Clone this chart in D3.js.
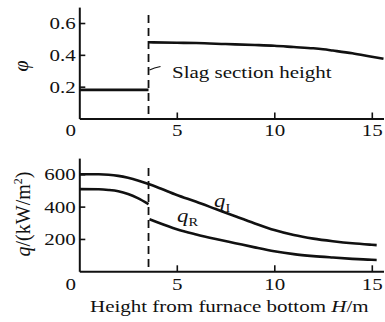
<!DOCTYPE html>
<html>
<head>
<meta charset="utf-8">
<script src="https://cdn.jsdelivr.net/npm/d3@7"></script>
<style>
  html, body { margin: 0; padding: 0; background: #fff; }
  svg { display: block; }
</style>
</head>
<body>
<svg id="chart" width="385" height="322"></svg>
<script>
// Height above the furnace bottom, H / m
const xTicks = [0, 5, 10, 15];
const slagHeight = 3.55;

// Upper panel: coefficient phi
const phiTicks = [0.2, 0.4, 0.6];
const hPhiLow = [0, 3.55];
const phiLow = [0.18, 0.18];
const hPhiHigh = [3.55, 5, 6, 7.5, 9, 10, 11, 12, 12.5, 13, 14, 15, 15.6];
const phiHigh = [0.479, 0.476, 0.474, 0.468, 0.462, 0.457, 0.449, 0.441, 0.435, 0.427, 0.41, 0.388, 0.375];

// Lower panel: heat flux q / (kW/m2)
const qTicks = [200, 400, 600];
const hQI = [0, 1, 1.5, 2, 2.5, 3, 3.55, 4, 5, 6, 7, 8, 9, 10, 11, 12, 13, 14, 15, 15.25];
const qI = [600, 600, 597, 590, 578, 562, 540, 520, 472, 430, 385, 340, 296, 255, 224, 202, 186, 173, 164, 162];
const hQRLow = [0, 1, 1.5, 2, 2.5, 3, 3.55];
const qRLow = [508, 507, 503, 495, 478, 452, 415];
const hQRHigh = [3.6, 4, 5, 6, 7, 8, 9, 10, 11, 12, 13, 14, 15, 15.25];
const qRHigh = [322, 303, 260, 228, 200, 174, 148, 124, 106, 94, 85, 77, 71, 70];

const FONT = "'Liberation Serif', 'Times New Roman', 'DejaVu Serif', serif";
const svg = d3.select("#chart").attr("font-family", FONT);
const FS = 17.5;      // base font size
const SX = 1.2;       // horizontal widening of the serif glyphs

const x = d3.scaleLinear().domain([0, 15.6]).range([79.3, 383.5]);
const yPhi = d3.scaleLinear().domain([0, 0.7]).range([118.5, 7.1]);
const yQ = d3.scaleLinear().domain([0, 700]).range([271.3, 158.1]);

const zip = (a, b) => a.map((v, i) => [v, b[i]]);

function drawAxes(yScale, ticks, fmt, pad) {
  const y0 = yScale.range()[0];
  const gx = svg.append("g").attr("transform", `translate(0,${y0})`)
    .call(d3.axisBottom(x).tickValues(xTicks).tickFormat(d3.format("d"))
      .tickSizeInner(-6).tickSizeOuter(0).tickPadding(pad));
  const gy = svg.append("g").attr("transform", `translate(${x(0)},0)`)
    .call(d3.axisLeft(yScale).tickValues(ticks).tickFormat(fmt)
      .tickSizeInner(-6).tickSizeOuter(0).tickPadding(3));
  [gx, gy].forEach(g => {
    g.attr("font-family", FONT).attr("font-size", FS);
    g.select(".domain").attr("stroke", "#111").attr("stroke-width", 2);
    g.selectAll(".tick line").attr("stroke", "#111").attr("stroke-width", 1.6);
    g.selectAll(".tick text").attr("fill", "#111").attr("font-family", FONT).attr("font-size", FS)
      .attr("transform", `scale(${SX},1)`);
  });
  gx.selectAll(".tick").filter(d => d === 0).select("line").remove();
  gx.selectAll(".tick").filter(d => d === 0).select("text").attr("x", -7.5);
}

function curve(xs, ys, yScale) {
  svg.append("path")
    .datum(zip(xs, ys))
    .attr("fill", "none").attr("stroke", "#111").attr("stroke-width", 2.6)
    .attr("d", d3.line().x(d => x(d[0])).y(d => yScale(d[1])).curve(d3.curveMonotoneX));
}

function label(px, py, rotate, build) {
  const g = svg.append("g").attr("transform", `translate(${px},${py}) rotate(${rotate}) scale(${rotate ? 1 : SX},1)`);
  const t = g.append("text").attr("font-size", FS).attr("font-family", FONT).attr("fill", "#111");
  build(t);
  return t;
}

// ---- upper panel ----
drawAxes(yPhi, phiTicks, d3.format(".1f"), 5);
svg.append("line")
  .attr("x1", x(slagHeight)).attr("x2", x(slagHeight))
  .attr("y1", 15).attr("y2", yPhi(0))
  .attr("stroke", "#111").attr("stroke-width", 1.8).attr("stroke-dasharray", "8,5");
curve(hPhiLow, phiLow, yPhi);
curve(hPhiHigh, phiHigh, yPhi);

svg.append("path")
  .attr("d", `M${x(slagHeight) + 1},70 L${x(slagHeight) + 6},68 L${x(slagHeight) + 12},66.5`)
  .attr("fill", "none").attr("stroke", "#111").attr("stroke-width", 1.2);
label(172, 77.5, 0, t => t.text("Slag section height"));

label(28, 66, -90, t => t.attr("text-anchor", "middle").attr("font-size", 20)
  .append("tspan").attr("font-style", "italic").text("φ"));

// ---- lower panel ----
drawAxes(yQ, qTicks, d3.format("d"), 6.5);
svg.append("line")
  .attr("x1", x(slagHeight)).attr("x2", x(slagHeight))
  .attr("y1", 168).attr("y2", yQ(0))
  .attr("stroke", "#111").attr("stroke-width", 1.8).attr("stroke-dasharray", "8,5");
curve(hQI, qI, yQ);
curve(hQRLow, qRLow, yQ);
curve(hQRHigh, qRHigh, yQ);

label(214, 206.5, 0, t => {
  t.append("tspan").attr("font-style", "italic").attr("font-size", 19).text("q");
  t.append("tspan").attr("font-size", 12).attr("dy", 5).text("I");
});
label(177, 221.5, 0, t => {
  t.append("tspan").attr("font-style", "italic").attr("font-size", 19).text("q");
  t.append("tspan").attr("font-size", 12).attr("dy", 4).text("R");
});

label(30, 214, -90, t => {
  t.attr("text-anchor", "middle").attr("font-size", 20);
  t.append("tspan").attr("font-style", "italic").text("q");
  t.append("tspan").text("/(kW/m");
  t.append("tspan").attr("font-size", 12).attr("dy", -8).text("2");
  t.append("tspan").attr("dy", 8).text(")");
});

label(90, 312, 0, t => {
  t.append("tspan").text("Height from furnace bottom ");
  t.append("tspan").attr("font-style", "italic").text("H");
  t.append("tspan").text("/m");
});
</script>
</body>
</html>
